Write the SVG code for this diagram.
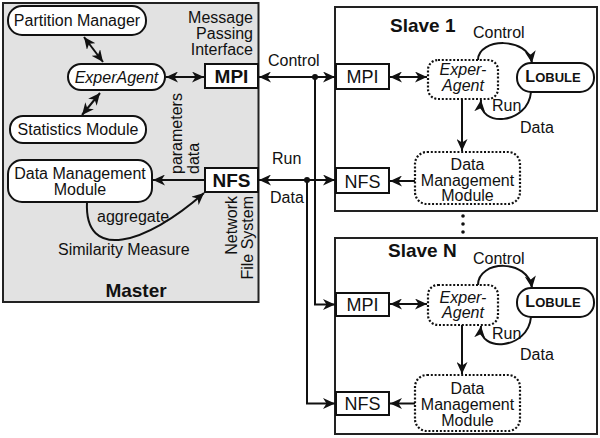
<svg xmlns="http://www.w3.org/2000/svg" width="600" height="438" viewBox="0 0 600 438">
<style>
text{font-family:"Liberation Sans",Arial,sans-serif;fill:#111}
.t{font-size:16px}
.tm{font-size:16px;text-anchor:middle}
.it{font-style:italic}
.b{font-weight:bold}
.node{fill:#fff;stroke:#111;stroke-width:2}
.dot{fill:#fff;stroke:#111;stroke-width:2.2;stroke-dasharray:2 1.8}
.frame{stroke:#222;stroke-width:2}
.ln{fill:none;stroke:#111;stroke-width:2}
.a2{marker-start:url(#ah);marker-end:url(#ah)}
.a1{marker-end:url(#ah)}
</style>
<defs>
<marker id="ah" viewBox="0 0 12 11" refX="12" refY="5.5" markerWidth="12" markerHeight="11" markerUnits="userSpaceOnUse" orient="auto-start-reverse">
<path d="M0,0 L12,5.5 L0,11 L3.5,5.5 z" fill="#111"/>
</marker>
</defs>

<g id="master">
<rect class="frame" x="3" y="3" width="255.5" height="299" fill="#e2e2e2"/>
<text class="t" x="253" y="23" text-anchor="end">Message</text>
<text class="t" x="253" y="39" text-anchor="end">Passing</text>
<text class="t" x="253" y="55" text-anchor="end">Interface</text>
<text class="t" transform="translate(182,174) rotate(-90)">parameters</text>
<text class="t" transform="translate(199,174) rotate(-90)">data</text>
<text class="t" transform="translate(237,196) rotate(-90)" text-anchor="end">Network</text>
<text class="t" transform="translate(253,196) rotate(-90)" text-anchor="end">File System</text>
<text class="t" x="97" y="222">aggregate</text>
<text class="t" x="58" y="255">Similarity Measure</text>
<text class="b" x="136" y="297" font-size="19" text-anchor="middle">Master</text>
</g>

<g id="partition-manager">
<rect class="node" x="8" y="6" width="138" height="29" rx="14"/>
<text class="tm" x="77" y="26">Partition Manager</text>
</g>
<g id="experagent-master">
<rect class="node" x="68" y="64" width="97" height="26" rx="13"/>
<text class="tm it" x="116.5" y="82.5">ExperAgent</text>
</g>
<g id="statistics-module">
<rect class="node" x="10" y="116" width="136" height="27" rx="13"/>
<text class="tm" x="78" y="135">Statistics Module</text>
</g>
<g id="dmm-master">
<rect class="node" x="8" y="160" width="144" height="42" rx="14"/>
<text class="tm" x="80" y="179">Data Management</text>
<text class="tm" x="80" y="195">Module</text>
</g>
<g id="mpi-master">
<rect class="node" x="205" y="64" width="53" height="24"/>
<text class="b" x="231.5" y="83" font-size="19" text-anchor="middle">MPI</text>
</g>
<g id="nfs-master">
<rect class="node" x="205" y="168" width="53" height="24"/>
<text class="b" x="231.5" y="187" font-size="19" text-anchor="middle">NFS</text>
</g>

<g id="slave1">
<rect class="frame" x="335" y="7" width="262" height="204" fill="#fff"/>
<text class="b" x="390" y="32" font-size="19">Slave 1</text>
<text class="t" x="473" y="38">Control</text>
<text class="t" x="492" y="111">Run</text>
<text class="t" x="520" y="133">Data</text>
</g>
<g id="mpi-s1">
<rect class="node" x="336" y="64" width="53" height="25"/>
<text x="362.5" y="83" font-size="18" text-anchor="middle">MPI</text>
</g>
<g id="nfs-s1">
<rect class="node" x="336" y="168" width="53" height="25"/>
<text x="362.5" y="187.5" font-size="18" text-anchor="middle">NFS</text>
</g>
<g id="experagent-s1">
<rect class="dot" x="428" y="60" width="70" height="39" rx="10"/>
<text class="tm it" x="463" y="75">Exper-</text>
<text class="tm it" x="463" y="91">Agent</text>
</g>
<g id="lobule-s1">
<rect class="node" x="517" y="63" width="77" height="29" rx="14"/>
<text class="b" x="553" y="82" text-anchor="middle"><tspan font-size="16">L</tspan><tspan font-size="13">OBULE</tspan></text>
</g>
<g id="dmm-s1">
<rect class="dot" x="415" y="152" width="105" height="52" rx="12"/>
<text class="tm" x="467.5" y="169.5">Data</text>
<text class="tm" x="467.5" y="185.5">Management</text>
<text class="tm" x="467.5" y="201">Module</text>
</g>

<g id="ellipsis">
<circle cx="463" cy="216" r="1.8" fill="#111"/>
<circle cx="463" cy="224" r="1.8" fill="#111"/>
<circle cx="463" cy="232" r="1.8" fill="#111"/>
</g>

<g id="slaveN">
<rect class="frame" x="335" y="238" width="262" height="196" fill="#fff"/>
<text class="b" x="388" y="257" font-size="19">Slave N</text>
<text class="t" x="473" y="263.5">Control</text>
<text class="t" x="492" y="338.5">Run</text>
<text class="t" x="520" y="359.5">Data</text>
</g>
<g id="mpi-sN">
<rect class="node" x="336" y="293" width="53" height="23"/>
<text x="362.5" y="311" font-size="18" text-anchor="middle">MPI</text>
</g>
<g id="nfs-sN">
<rect class="node" x="336" y="392" width="53" height="23"/>
<text x="362.5" y="410" font-size="18" text-anchor="middle">NFS</text>
</g>
<g id="experagent-sN">
<rect class="dot" x="428" y="285" width="70" height="40" rx="10"/>
<text class="tm it" x="463" y="302.5">Exper-</text>
<text class="tm it" x="463" y="318">Agent</text>
</g>
<g id="lobule-sN">
<rect class="node" x="517" y="288" width="77" height="29" rx="14"/>
<text class="b" x="553" y="307" text-anchor="middle"><tspan font-size="16">L</tspan><tspan font-size="13">OBULE</tspan></text>
</g>
<g id="dmm-sN">
<rect class="dot" x="415" y="375" width="105" height="56" rx="12"/>
<text class="tm" x="467.5" y="394">Data</text>
<text class="tm" x="467.5" y="410">Management</text>
<text class="tm" x="467.5" y="426">Module</text>
</g>

<g id="connectors">
<line class="ln a2" x1="84" y1="37" x2="103" y2="62"/>
<line class="ln a2" x1="100" y1="93" x2="82" y2="115"/>
<line class="ln a2" x1="166" y1="77" x2="204" y2="77"/>
<line class="ln a1" x1="205" y1="180" x2="153" y2="180"/>
<path class="ln a1" d="M87 202 C84 262 145 245 204 193"/>
<line class="ln a2" x1="259" y1="77" x2="335" y2="77"/>
<line class="ln a2" x1="259" y1="180" x2="335" y2="180"/>
<text class="t" x="268" y="66">Control</text>
<text class="t" x="272" y="164">Run</text>
<text class="t" x="270" y="203">Data</text>
<circle cx="315" cy="77" r="3" fill="#111"/>
<circle cx="307" cy="180" r="3" fill="#111"/>
<path class="ln a1" d="M315 77 V304.5 H335"/>
<path class="ln a1" d="M307 180 V403.5 H335"/>
<line class="ln a2" x1="390" y1="77" x2="427" y2="77"/>
<path class="ln a1" d="M478 60 C478 38 528 36 532 63"/>
<path class="ln a1" d="M531 92 C528 125 478 128 481 100"/>
<line class="ln a1" x1="462" y1="99" x2="462" y2="151"/>
<line class="ln a1" x1="415" y1="181" x2="390" y2="181"/>
<line class="ln a2" x1="390" y1="304" x2="427" y2="304"/>
<path class="ln a1" d="M478 285 C478 260 528 258 532 288"/>
<path class="ln a1" d="M531 317 C528 350 478 353 481 326"/>
<line class="ln a1" x1="462" y1="325" x2="462" y2="374"/>
<line class="ln a1" x1="415" y1="403.5" x2="390" y2="403.5"/>
</g>
</svg>
